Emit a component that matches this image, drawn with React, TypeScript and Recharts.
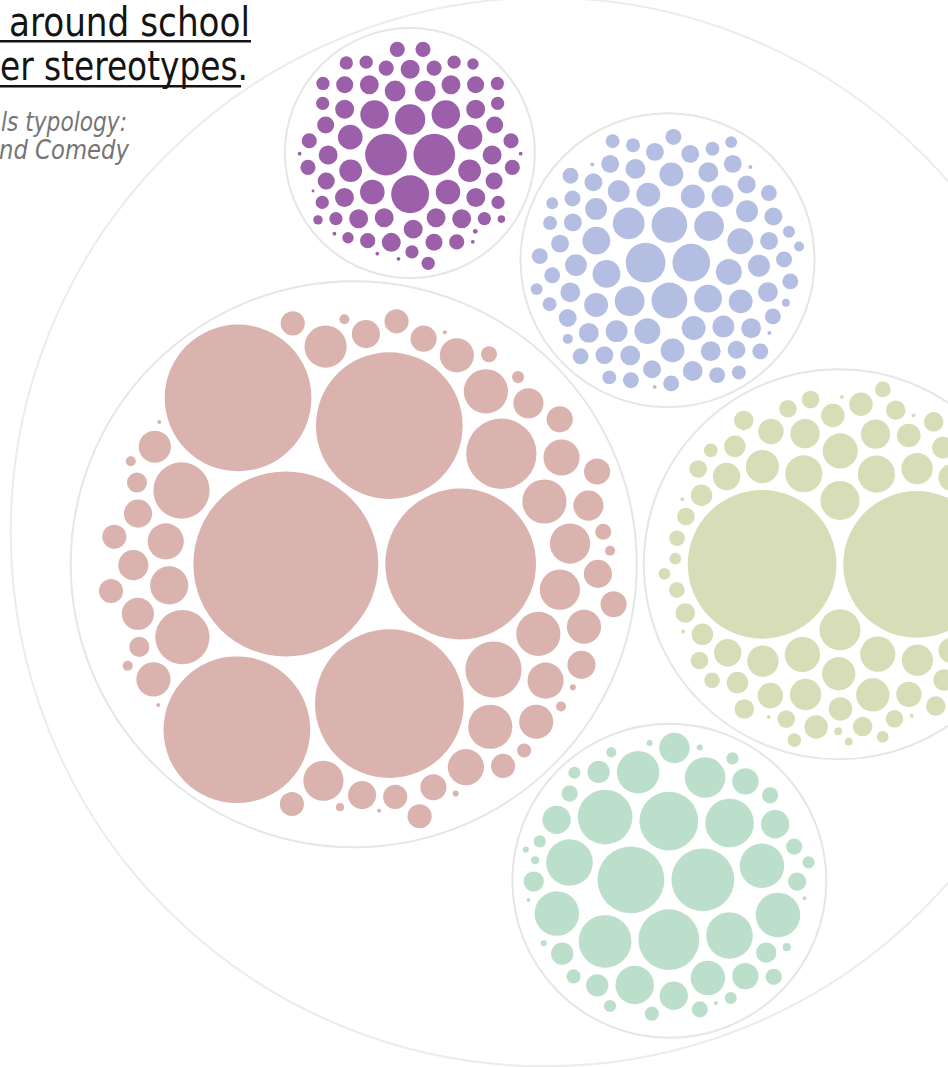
import React from 'react'
import { ScatterChart, Scatter, XAxis, YAxis, ZAxis } from 'recharts'

const W = 948
const H = 1067

// item sizes (circle radius, px) per category
const pinkSizes = [
  92, 75, 74, 73, 73, 73, 35, 28, 28, 27, 22, 22, 22, 22, 21, 20, 20, 20, 19, 18, 18, 18, 18, 17, 17, 17, 17, 16,
  16, 15, 15, 15, 14, 14, 14, 14, 14, 13, 13, 13, 13, 13, 12, 12, 12, 12, 12, 12, 12, 12, 10, 10, 8, 8, 7, 6, 5, 5,
  5, 5, 5, 4, 3, 3, 2, 2, 2, 2,
]
const yellowSizes = [
  76, 75, 21, 20, 19, 19, 18, 18, 18, 17, 17, 17, 16, 16, 16, 16, 15, 15, 14, 14, 14, 13, 13, 13, 13, 12, 12, 12, 12,
  12, 11, 11, 11, 11, 11, 11, 11, 11, 10, 10, 10, 10, 10, 10, 10, 10, 9, 9, 9, 9, 9, 9, 9, 9, 9, 8, 8, 8, 8, 8, 8, 8,
  8, 7, 7, 7, 6, 6, 6, 4, 4, 4, 4, 2, 2, 2, 2, 2, 2,
]
const greenSizes = [
  33, 31, 30, 29, 27, 26, 24, 23, 23, 22, 22, 22, 21, 20, 19, 17, 15, 14, 14, 14, 13, 13, 11, 11, 11, 10, 10, 9, 8, 8,
  8, 8, 8, 7, 7, 6, 6, 6, 6, 6, 6, 5, 4, 4, 3, 3, 3, 3, 2, 2, 2,
]
const blueSizes = [
  20, 19, 18, 18, 16, 15, 15, 14, 14, 14, 13, 13, 13, 12, 12, 12, 12, 12, 12, 12, 11, 11, 11, 11, 11, 11, 11, 11, 10,
  10, 10, 10, 10, 10, 10, 10, 10, 9, 9, 9, 9, 9, 9, 9, 9, 9, 9, 9, 9, 9, 9, 8, 8, 8, 8, 8, 8, 8, 8, 8, 8, 8, 8, 8, 8, 7,
  7, 7, 7, 7, 7, 7, 6, 6, 6, 6, 5, 5, 4, 2, 2, 2, 2,
]
const purpleSizes = [
  22, 22, 20, 16, 15, 15, 13, 13, 13, 13, 12, 12, 11, 11, 10, 10, 10, 10, 10, 10, 10, 10, 10, 10, 10, 10, 10, 10, 10, 9,
  9, 9, 9, 9, 9, 9, 8, 8, 8, 8, 8, 8, 8, 8, 8, 8, 7, 7, 7, 7, 7, 7, 7, 7, 7, 7, 7, 7, 7, 6, 6, 5, 4, 2.5, 2, 2, 2, 2,
  2, 2, 1.5,
]

const categorySizes = [pinkSizes, yellowSizes, greenSizes, blueSizes, purpleSizes]
const categoryRadii = [283, 195, 157, 147, 125]
const categoryColors = ['#dab3ae', '#d7deb7', '#bcdfcb', '#b4bee2', '#9c60aa']

const PAD = 3.5
const ROOT_X = 545
const ROOT_Y = 532

// --- circle packing (front-chain, as in d3-hierarchy pack) ---
type Circle = { x: number; y: number; r: number }
type Link = { _: Circle; next: Link; previous: Link }

function place(b: Circle, a: Circle, c: Circle) {
  const dx = b.x - a.x
  const dy = b.y - a.y
  const d2 = dx * dx + dy * dy
  if (d2) {
    const a2 = (a.r + c.r) ** 2
    const b2 = (b.r + c.r) ** 2
    if (a2 > b2) {
      const x = (d2 + b2 - a2) / (2 * d2)
      const y = Math.sqrt(Math.max(0, b2 / d2 - x * x))
      c.x = b.x - x * dx - y * dy
      c.y = b.y - x * dy + y * dx
    } else {
      const x = (d2 + a2 - b2) / (2 * d2)
      const y = Math.sqrt(Math.max(0, a2 / d2 - x * x))
      c.x = a.x + x * dx - y * dy
      c.y = a.y + x * dy + y * dx
    }
  } else {
    c.x = a.x + c.r
    c.y = a.y
  }
}

function intersects(a: Circle, b: Circle) {
  const dr = a.r + b.r - 1e-6
  const dx = b.x - a.x
  const dy = b.y - a.y
  return dr > 0 && dr * dr > dx * dx + dy * dy
}

function score(node: Link) {
  const a = node._
  const b = node.next._
  const ab = a.r + b.r
  const dx = (a.x * b.r + b.x * a.r) / ab
  const dy = (a.y * b.r + b.y * a.r) / ab
  return dx * dx + dy * dy
}

function enclosesNot(a: Circle, b: Circle) {
  const dr = a.r - b.r
  const dx = b.x - a.x
  const dy = b.y - a.y
  return dr < 0 || dr * dr < dx * dx + dy * dy
}

function enclosesWeak(a: Circle, b: Circle) {
  const dr = a.r - b.r + Math.max(a.r, b.r, 1) * 1e-9
  const dx = b.x - a.x
  const dy = b.y - a.y
  return dr > 0 && dr * dr > dx * dx + dy * dy
}

function enclosesWeakAll(a: Circle, B: Circle[]) {
  return B.every((b) => enclosesWeak(a, b))
}

function basis2(a: Circle, b: Circle): Circle {
  const x21 = b.x - a.x
  const y21 = b.y - a.y
  const r21 = b.r - a.r
  const l = Math.sqrt(x21 * x21 + y21 * y21)
  return { x: (a.x + b.x + (x21 / l) * r21) / 2, y: (a.y + b.y + (y21 / l) * r21) / 2, r: (l + a.r + b.r) / 2 }
}

function basis3(a: Circle, b: Circle, c: Circle): Circle {
  const x1 = a.x, y1 = a.y, r1 = a.r
  const a2 = x1 - b.x, a3 = x1 - c.x, b2 = y1 - b.y, b3 = y1 - c.y
  const c2 = b.r - r1, c3 = c.r - r1
  const d1 = x1 * x1 + y1 * y1 - r1 * r1
  const d2 = d1 - b.x * b.x - b.y * b.y + b.r * b.r
  const d3 = d1 - c.x * c.x - c.y * c.y + c.r * c.r
  const ab = a3 * b2 - a2 * b3
  const xa = (b2 * d3 - b3 * d2) / (ab * 2) - x1
  const xb = (b3 * c2 - b2 * c3) / ab
  const ya = (a3 * d2 - a2 * d3) / (ab * 2) - y1
  const yb = (a2 * c3 - a3 * c2) / ab
  const A = xb * xb + yb * yb - 1
  const Bq = 2 * (r1 + xa * xb + ya * yb)
  const C = xa * xa + ya * ya - r1 * r1
  const r = -(Math.abs(A) > 1e-6 ? (Bq + Math.sqrt(Bq * Bq - 4 * A * C)) / (2 * A) : C / Bq)
  return { x: x1 + xa + xb * r, y: y1 + ya + yb * r, r }
}

function encloseBasis(B: Circle[]): Circle {
  if (B.length === 1) return { ...B[0] }
  if (B.length === 2) return basis2(B[0], B[1])
  return basis3(B[0], B[1], B[2])
}

function extendBasis(B: Circle[], p: Circle): Circle[] {
  if (enclosesWeakAll(p, B)) return [p]
  for (let i = 0; i < B.length; ++i) {
    if (enclosesNot(p, B[i]) && enclosesWeakAll(basis2(B[i], p), B)) return [B[i], p]
  }
  for (let i = 0; i < B.length - 1; ++i) {
    for (let j = i + 1; j < B.length; ++j) {
      if (
        enclosesNot(basis2(B[i], B[j]), p) &&
        enclosesNot(basis2(B[i], p), B[j]) &&
        enclosesNot(basis2(B[j], p), B[i]) &&
        enclosesWeakAll(basis3(B[i], B[j], p), B)
      )
        return [B[i], B[j], p]
    }
  }
  return [p]
}

function enclose(circles: Circle[]): Circle {
  let i = 0
  let B: Circle[] = []
  let e: Circle | null = null
  let guard = 0
  while (i < circles.length && guard++ < 200000) {
    const p = circles[i]
    if (e && enclosesWeak(e, p)) ++i
    else {
      B = extendBasis(B, p)
      e = encloseBasis(B)
      i = 0
    }
  }
  return e as Circle
}

function packSiblings(circles: Circle[]): number {
  const n = circles.length
  if (!n) return 0
  let a: any = circles[0]
  a.x = 0
  a.y = 0
  if (n === 1) return a.r
  let b: any = circles[1]
  a.x = -b.r
  b.x = a.r
  b.y = 0
  if (n === 2) return a.r + b.r
  let c: any = circles[2]
  place(b, a, c)
  a = { _: a }
  b = { _: b }
  c = { _: c }
  a.next = c.previous = b
  b.next = a.previous = c
  c.next = b.previous = a

  pack: for (let i = 3; i < n; ++i) {
    place(a._, b._, (c = circles[i]))
    c = { _: c }
    let j = b.next
    let k = a.previous
    let sj = b._.r
    let sk = a._.r
    do {
      if (sj <= sk) {
        if (intersects(j._, c._)) {
          b = j
          a.next = b
          b.previous = a
          --i
          continue pack
        }
        sj += j._.r
        j = j.next
      } else {
        if (intersects(k._, c._)) {
          a = k
          a.next = b
          b.previous = a
          --i
          continue pack
        }
        sk += k._.r
        k = k.previous
      }
    } while (j !== k.next)

    c.previous = a
    c.next = b
    a.next = b.previous = b = c
    let aa = score(a)
    while ((c = c.next) !== b) {
      const ca = score(c)
      if (ca < aa) {
        a = c
        aa = ca
      }
    }
    b = a.next
  }

  const chain: Circle[] = [b._]
  c = b
  while ((c = c.next) !== b) chain.push(c._)
  const e = enclose(chain)
  for (const p of circles) {
    p.x -= e.x
    p.y -= e.y
  }
  return e.r
}

function buildLayout() {
  const groups = categorySizes.map((sizes, gi) => {
    const leaves = [...sizes].sort((p, q) => q - p).map((r) => ({ x: 0, y: 0, r: r + PAD }))
    const natural = packSiblings(leaves) + PAD
    return { gi, k: categoryRadii[gi] / natural, leaves, c: { x: 0, y: 0, r: categoryRadii[gi] + PAD } }
  })
  const order = [...groups].sort((p, q) => q.c.r - p.c.r)
  const rootR = packSiblings(order.map((g) => g.c)) + PAD

  const leafSeries = groups.map((g) => {
    const gx = ROOT_X + g.c.x
    const gy = ROOT_Y + g.c.y
    return g.leaves.map((l) => {
      const r = (l.r - PAD) * g.k
      return { x: gx + l.x * g.k, y: gy + l.y * g.k, z: r * r }
    })
  })
  const groupPoints = groups.map((g) => ({ x: ROOT_X + g.c.x, y: ROOT_Y + g.c.y, z: (g.c.r - PAD) ** 2 }))
  const rootPoint = [{ x: ROOT_X, y: ROOT_Y, z: rootR * rootR }]
  return { leafSeries, groupPoints, rootPoint, zMax: rootR * rootR }
}

const layout = buildLayout()
// zero-size point pins the size axis at 0 so radius maps linearly
const anchorPoint = [{ x: 0, y: 0, z: 0 }]

const TITLE_FONT = "'DejaVu Sans Condensed', 'Liberation Sans Narrow', 'DejaVu Sans', sans-serif"

export default function App() {
  const { leafSeries, groupPoints, rootPoint, zMax } = layout
  return (
    <div style={{ position: 'absolute', left: 0, top: 0, width: W, height: H, background: '#fff', overflow: 'hidden' }}>
      <ScatterChart width={W} height={H} margin={{ top: 0, right: 0, bottom: 0, left: 0 }}>
        <XAxis type="number" dataKey="x" domain={[0, W]} allowDataOverflow hide />
        <YAxis type="number" dataKey="y" domain={[0, H]} allowDataOverflow reversed hide />
        <ZAxis type="number" dataKey="z" domain={[0, zMax]} range={[0, Math.PI * zMax]} />
        <Scatter data={rootPoint} fill="#fff" stroke="#ececec" strokeWidth={2} isAnimationActive={false} />
        <Scatter data={groupPoints} fill="#fff" stroke="#e6e6e6" strokeWidth={2} isAnimationActive={false} />
        {leafSeries.map((pts, i) => (
          <Scatter key={i} data={pts} fill={categoryColors[i]} isAnimationActive={false} />
        ))}
        <Scatter data={anchorPoint} fill="none" isAnimationActive={false} />
      </ScatterChart>

      <svg width={W} height={H} style={{ position: 'absolute', left: 0, top: 0, pointerEvents: 'none' }}>
        <g fontFamily={TITLE_FONT} fill="#141414" fontSize={41}>
          <text x={9} y={36} textLength={241} lengthAdjust="spacingAndGlyphs">
            around school
          </text>
          <text x={0} y={80} textLength={248} lengthAdjust="spacingAndGlyphs">
            er stereotypes.
          </text>
        </g>
        <rect x={0} y={40} width={251} height={2.5} fill="#141414" />
        <rect x={0} y={85} width={241} height={2.5} fill="#141414" />
        <g fontFamily={TITLE_FONT} fill="#757575" fontSize={26} fontStyle="italic">
          <text x={1} y={131} textLength={126} lengthAdjust="spacingAndGlyphs">
            ls typology:
          </text>
          <text x={-1} y={159} textLength={130} lengthAdjust="spacingAndGlyphs">
            nd Comedy
          </text>
        </g>
      </svg>
    </div>
  )
}
